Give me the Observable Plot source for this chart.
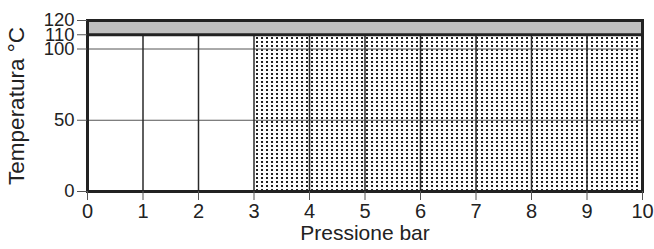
<!DOCTYPE html>
<html>
<head>
<meta charset="utf-8">
<script src="https://cdn.jsdelivr.net/npm/d3@7"></script>
<script src="https://cdn.jsdelivr.net/npm/@observablehq/plot@0.6"></script>
<style>
  html, body { margin: 0; padding: 0; background: #fff; }
</style>
</head>
<body>
<div id="chart"></div>
<script>
// Data
const xTicks = [0, 1, 2, 3, 4, 5, 6, 7, 8, 9, 10];
const yTicks = [0, 50, 100, 110];
const yTopTick = [120];
const verticalGrid = [1, 2, 3, 4, 5, 6, 7, 8, 9];
const horizontalGrid = [50, 100];
const limitLine = [110];
const greyZone = [{x1: 0, x2: 10, y1: 110, y2: 120}];
const dottedZone = [{x1: 3, x2: 10, y1: 0, y2: 110}];
const xLabel = ["Pressione bar"];
const yLabel = ["Temperatura °C"];

const font = "'Liberation Sans', Arial, Helvetica, sans-serif";

const svg = Plot.plot({
  width: 654,
  height: 249,
  marginLeft: 87,
  marginRight: 12,
  marginTop: 20,
  marginBottom: 58,
  style: {fontFamily: font, fontSize: "20px", color: "#222", background: "#fff", overflow: "visible"},
  x: {domain: [0, 10]},
  y: {domain: [0, 120]},
  marks: [
    Plot.rect(greyZone, {x1: "x1", x2: "x2", y1: "y1", y2: "y2", fill: "#c0c0c0"}),
    Plot.rect(dottedZone, {x1: "x1", x2: "x2", y1: "y1", y2: "y2", fill: "url(#dots)"}),
    Plot.ruleY(horizontalGrid, {x1: 0, x2: 10, stroke: "#555", strokeWidth: 1}),
    Plot.ruleX(verticalGrid, {y1: 0, y2: 110, stroke: "#2a2a2a", strokeWidth: 1.5}),
    Plot.ruleY(limitLine, {x1: 0, x2: 10, stroke: "#222", strokeWidth: 3}),
    Plot.frame({stroke: "#222", strokeWidth: 3}),
    Plot.axisX(xTicks, {tickSize: 9, tickPadding: 3, stroke: "#555", fill: "#222", label: null, fontSize: 20}),
    Plot.axisY(yTicks, {tickSize: 10, tickPadding: 3, stroke: "#555", fill: "#222", label: null, fontSize: 18.5}),
    Plot.axisY(yTopTick, {tickSize: 10, tickPadding: 3, stroke: "#555", fill: "#222", label: null, fontSize: 18.5, textStroke: null}),
    Plot.text(xLabel, {text: d => d, frameAnchor: "bottom", dy: 48, fontSize: 21, fill: "#222"}),
    Plot.text(yLabel, {text: d => d, frameAnchor: "left", textAnchor: "middle", dx: -71, rotate: -90, fontSize: 22.5, fill: "#222"})
  ]
});

const defs = d3.select(svg).insert("defs", ":first-child");
const pat = defs.append("pattern")
  .attr("id", "dots")
  .attr("patternUnits", "userSpaceOnUse")
  .attr("width", 5)
  .attr("height", 4);
pat.append("rect").attr("width", 5).attr("height", 4).attr("fill", "#fff");
pat.append("rect").attr("x", 1).attr("y", 1).attr("width", 2).attr("height", 2).attr("fill", "#222");

document.getElementById("chart").appendChild(svg);
</script>
</body>
</html>
